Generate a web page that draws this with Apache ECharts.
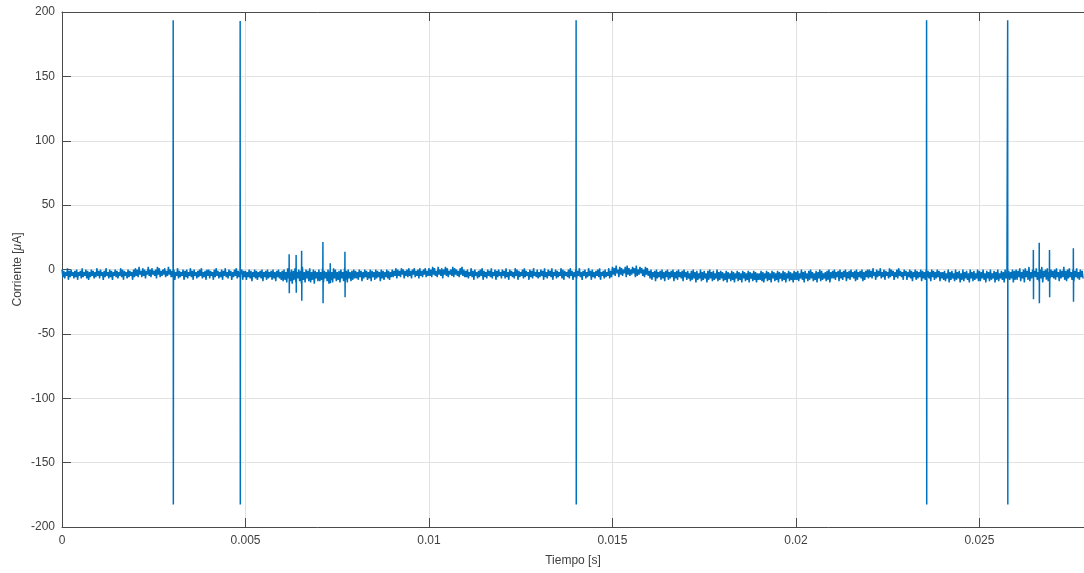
<!DOCTYPE html>
<html>
<head>
<meta charset="utf-8">
<title>Corriente vs Tiempo</title>
<script src="https://cdn.jsdelivr.net/npm/echarts@6/dist/echarts.min.js"></script>
<style>
  html, body { margin: 0; padding: 0; background: #ffffff; }
  #chart { width: 1084px; height: 573px; }
</style>
</head>
<body>
<div id="chart"></div>
<script>
// Sampled background current (µA), one sample every STEP seconds from T0.
// Each row holds 1 ms of samples (40 per row).
const T0 = 0;
const STEP = 0.000025;
const current = [
  0,-6,-1,-7,-2,-5,1,-8,-1,-6,0,-5,-2,-7,-1,-6,0,-8,-2,-5,-1,-7,1,-6,-2,-5,0,-7,-1,-8,-2,-6,0,-5,-1,-7,-2,-6,1,-5,
  -1,-7,0,-5,-2,-8,-1,-6,1,-5,-2,-7,0,-6,-1,-8,-2,-5,0,-6,-1,-7,-2,-5,1,-6,0,-8,-1,-5,-2,-7,0,-6,-1,-5,-2,-8,0,-6,
  1,-5,0,-6,2,-4,-1,-6,1,-5,0,-7,-1,-4,2,-5,0,-6,1,-4,-1,-5,0,-7,2,-4,1,-6,-1,-5,0,-4,1,-6,-1,-5,2,-4,0,-6,
  -1,-6,0,-8,-2,-5,1,-7,-1,-6,-2,-5,0,-8,-1,-6,0,-7,-2,-5,1,-6,-1,-8,0,-5,-2,-7,-1,-6,0,-5,1,-7,-2,-6,-1,-8,0,-5,
  0,-7,-1,-5,-2,-8,0,-6,1,-5,-1,-7,-2,-6,0,-8,-1,-5,1,-6,-2,-7,0,-5,-1,-8,-2,-6,0,-5,1,-7,-1,-6,-2,-5,0,-8,-1,-6,
  -1,-8,-2,-6,0,-7,-1,-9,-2,-6,0,-7,-1,-8,-2,-6,-1,-7,0,-9,-2,-6,-1,-8,0,-7,-2,-6,-1,-8,0,-7,-2,-9,-1,-6,0,-7,-2,-8,
  -1,-9,0,-8,-2,-10,1,-7,-2,-9,0,-11,-1,-8,1,-10,-2,-7,0,-9,-1,-11,2,-8,-2,-10,0,-7,-1,-9,1,-10,-2,-8,0,-11,-1,-7,-2,-9,
  0,-9,-2,-8,1,-10,-1,-7,-2,-9,0,-11,-1,-8,-2,-10,1,-7,0,-9,-2,-8,-1,-10,0,-7,-2,-9,1,-8,-1,-10,0,-7,-2,-9,-1,-8,0,-7,
  -1,-7,-2,-8,0,-6,-1,-9,-2,-7,0,-6,-1,-8,-2,-7,0,-9,-1,-6,-2,-8,0,-7,-1,-6,-2,-9,0,-7,-1,-8,-2,-6,0,-7,-1,-8,-2,-6,
  0,-6,-1,-5,1,-7,0,-5,-1,-6,1,-4,0,-7,-1,-5,0,-6,1,-5,-1,-7,0,-4,1,-6,-1,-5,0,-7,1,-5,-1,-6,0,-4,1,-6,-1,-5,
  1,-5,0,-6,2,-4,1,-5,-1,-6,2,-4,0,-5,1,-7,0,-4,2,-5,1,-6,-1,-4,0,-5,2,-6,1,-4,0,-5,-1,-6,1,-4,2,-5,0,-6,
  -1,-6,0,-7,-2,-5,1,-6,-1,-8,0,-5,-2,-7,-1,-6,0,-5,1,-8,-1,-6,-2,-7,0,-5,-1,-6,1,-7,-2,-5,0,-8,-1,-6,0,-5,-2,-7,
  0,-5,-1,-7,1,-6,-2,-8,0,-5,-1,-6,-2,-7,1,-5,0,-8,-1,-6,-2,-5,0,-7,1,-6,-1,-5,-2,-8,0,-6,-1,-7,1,-5,-2,-6,0,-7,
  -2,-6,0,-5,-1,-8,1,-6,-2,-7,0,-5,-1,-6,1,-8,-2,-5,0,-7,-1,-6,-2,-5,1,-7,0,-8,-1,-5,-2,-6,0,-7,1,-5,-1,-8,-2,-6,
  0,-7,-1,-5,1,-6,-2,-8,-1,-5,0,-7,-2,-6,1,-5,-1,-8,0,-6,-2,-7,-1,-5,0,-6,1,-8,-2,-5,-1,-7,0,-6,-2,-5,1,-7,-1,-6,
  2,-4,1,-5,3,-3,0,-6,2,-4,1,-5,0,-3,2,-6,3,-4,1,-5,0,-4,2,-3,1,-6,3,-5,0,-4,2,-3,1,-5,0,-6,2,-4,1,-5,
  -1,-7,0,-8,-2,-6,-1,-9,0,-7,-2,-6,-1,-8,0,-7,-2,-9,-1,-6,0,-8,-2,-7,-1,-6,0,-9,-2,-7,-1,-8,0,-6,-2,-7,-1,-9,0,-6,
  -2,-8,-1,-7,-3,-9,-1,-8,0,-7,-2,-10,-1,-8,-3,-7,0,-9,-2,-8,-1,-7,-3,-10,-1,-8,0,-7,-2,-9,-1,-8,-3,-7,0,-9,-2,-8,-1,-7,
  -2,-9,-3,-8,-1,-10,-2,-7,-3,-9,-1,-8,-2,-10,-3,-7,-1,-9,-2,-8,-3,-10,-1,-7,-2,-9,-3,-8,-1,-10,-2,-7,-3,-9,-1,-8,-2,-10,-3,-8,
  -3,-8,-1,-9,-2,-10,-3,-7,-1,-9,-2,-8,-3,-10,-1,-7,-2,-9,-3,-8,-1,-10,-2,-7,-3,-9,-1,-8,-2,-10,-3,-7,-1,-9,-2,-8,-3,-10,-1,-8,
  -2,-8,-1,-9,-3,-7,0,-8,-2,-10,-1,-7,-3,-9,-1,-8,0,-7,-2,-9,-3,-8,-1,-10,-2,-7,0,-9,-1,-8,-3,-7,-2,-9,-1,-8,0,-10,-2,-7,
  -1,-7,0,-8,-2,-6,-1,-9,0,-7,-2,-8,-1,-6,0,-9,-2,-7,-1,-8,0,-6,-2,-7,-1,-9,0,-8,-2,-6,-1,-7,0,-9,-2,-8,-1,-6,0,-7,
  0,-6,-1,-7,1,-5,-2,-8,0,-6,-1,-5,1,-7,-2,-6,0,-8,-1,-5,-2,-7,1,-6,0,-5,-1,-8,-2,-6,0,-7,1,-5,-1,-6,-2,-8,0,-5,
  -1,-8,-2,-6,0,-7,-1,-9,-2,-6,0,-8,-1,-7,-2,-6,0,-9,-1,-7,-2,-8,0,-6,-1,-7,-2,-9,0,-6,-1,-8,-2,-7,0,-6,-1,-9,-2,-7,
  -2,-8,-1,-9,-3,-7,0,-10,-2,-8,-1,-7,-3,-9,0,-8,-2,-7,-1,-10,-3,-8,0,-9,-2,-7,-1,-8,-3,-10,0,-7,-2,-9,-1,-8,-3,-7,0,-9,
  -1,-9,-2,-7,0,-8,-3,-10,-1,-7,-2,-9,0,-8,-3,-7,-1,-10,-2,-8,0,-9,-3,-7,-1,-8,-2,-10,0,-7,-3,-9,-1,-8,-2,-7,0,-10,-1,-8,
  0,-8,-1,-6,1,-9,-2,-7,0,-10,1,-6,-1,-8,2,-9,-2,-7,0,-10,-1,-6,1,-8,-2,-9,0,-7,2,-10,-1,-6,0,-8,1,-9,-2,-7,0,-6,
  -1,-7,0,-8,1,-6,-2,-9,0,-7,-1,-6,2,-8,-1,-9,0,-7,1,-6,-2,-8,0,-9,-1,-6,1,-7,-2,-8,0,-6,-1,-7
];

// Discharge pulses and smaller bursts: time (s) and current (µA).
// Each pulse: lead-in, peak, trough, return.
const eventTimes = [
  0.003027, 0.003030, 0.003034, 0.003038,
  0.004852, 0.004855, 0.004859, 0.004863,
  0.006187, 0.006190, 0.006194, 0.006198,
  0.006377, 0.006380, 0.006384, 0.006388,
  0.006527, 0.006530, 0.006534, 0.006538,
  0.007107, 0.007110, 0.007114, 0.007118,
  0.007307, 0.007310, 0.007314, 0.007318,
  0.007707, 0.007710, 0.007714, 0.007718,
  0.014007, 0.014010, 0.014014, 0.014018,
  0.023557, 0.023560, 0.023564, 0.023568,
  0.025767, 0.025770, 0.025774, 0.025778,
  0.026467, 0.026470, 0.026474, 0.026478,
  0.026627, 0.026630, 0.026634, 0.026638,
  0.026907, 0.026910, 0.026914, 0.026918,
  0.027557, 0.027560, 0.027564, 0.027568
];
const eventValues = [
  -4, 193.5, -182.5, -4,
  -4, 193.0, -182.5, -4,
  -4, 11.8, -18.5, -4,
  -4, 11.3, -18.0, -4,
  -4, 14.6, -24.2, -4,
  -4, 21.4, -26.3, -4,
  -4, 4.8, -10.7, -4,
  -4, 13.8, -21.6, -4,
  -4, 193.5, -182.5, -4,
  -4, 193.5, -182.5, -4,
  -4, 193.5, -182.5, -4,
  -4, 15.1, -23.2, -4,
  -4, 20.8, -26.3, -4,
  -4, 15.1, -21.6, -4,
  -4, 16.5, -25.0, -4
];

// Axis ranges and tick spacing
const xRange = [0, 0.02785];
const xStep = 0.005;
const yRange = [-200, 200];
const yStep = 50;

// Build the time-ordered trace
const trace = current.map((v, i) => [+(T0 + i * STEP).toFixed(7), v]);
eventTimes.forEach((t, i) => trace.push([t, eventValues[i]]));
trace.sort((a, b) => a[0] - b[0]);

const axisColor = '#4a4a4a';
const gridColor = '#e2e2e2';
const labelColor = '#404040';
const font = '"Liberation Sans", Arial, sans-serif';

const chart = echarts.init(document.getElementById('chart'), null, { renderer: 'canvas' });
chart.setOption({
  backgroundColor: '#ffffff',
  animation: false,
  grid: { left: 62, right: 0, top: 12, bottom: 46, containLabel: false },
  xAxis: [
    {
      type: 'value',
      position: 'bottom',
      min: xRange[0],
      max: xRange[1],
      interval: xStep,
      name: 'Tiempo [s]',
      nameLocation: 'middle',
      nameGap: 28,
      nameMoveOverlap: false,
      nameTextStyle: { color: labelColor, fontSize: 12, fontFamily: font },
      axisLine: { show: true, onZero: false, lineStyle: { color: axisColor, width: 1 } },
      axisTick: { show: true, inside: true, length: 9, lineStyle: { color: axisColor } },
      axisLabel: { color: labelColor, fontSize: 12, fontFamily: font, margin: 8, showMaxLabel: false },
      splitLine: { show: true, lineStyle: { color: gridColor, width: 1 } }
    },
    {
      type: 'value',
      position: 'top',
      min: xRange[0],
      max: xRange[1],
      interval: xStep,
      axisLine: { show: true, onZero: false, lineStyle: { color: axisColor, width: 1 } },
      axisTick: { show: true, inside: true, length: 9, lineStyle: { color: axisColor } },
      axisLabel: { show: false },
      splitLine: { show: false }
    }
  ],
  yAxis: {
    type: 'value',
    min: yRange[0],
    max: yRange[1],
    interval: yStep,
    name: 'Corriente [{mu|μ}A]',
    nameLocation: 'middle',
    nameGap: 38,
    nameMoveOverlap: false,
    nameRotate: 90,
    nameTextStyle: {
      color: labelColor, fontSize: 12, fontFamily: font,
      rich: { mu: { fontStyle: 'italic', color: labelColor, fontSize: 12, fontFamily: font } }
    },
    axisLine: { show: true, onZero: false, lineStyle: { color: axisColor, width: 1 } },
    axisTick: { show: true, inside: true, length: 9, lineStyle: { color: axisColor } },
    axisLabel: { color: labelColor, fontSize: 12, fontFamily: font, margin: 7 },
    splitLine: { show: true, lineStyle: { color: gridColor, width: 1 } }
  },
  series: [{
    type: 'line',
    xAxisIndex: 0,
    data: trace,
    showSymbol: false,
    symbol: 'none',
    sampling: null,
    lineStyle: { color: '#0072BD', width: 1.5 },
    clip: true
  }]
});
</script>
</body>
</html>
